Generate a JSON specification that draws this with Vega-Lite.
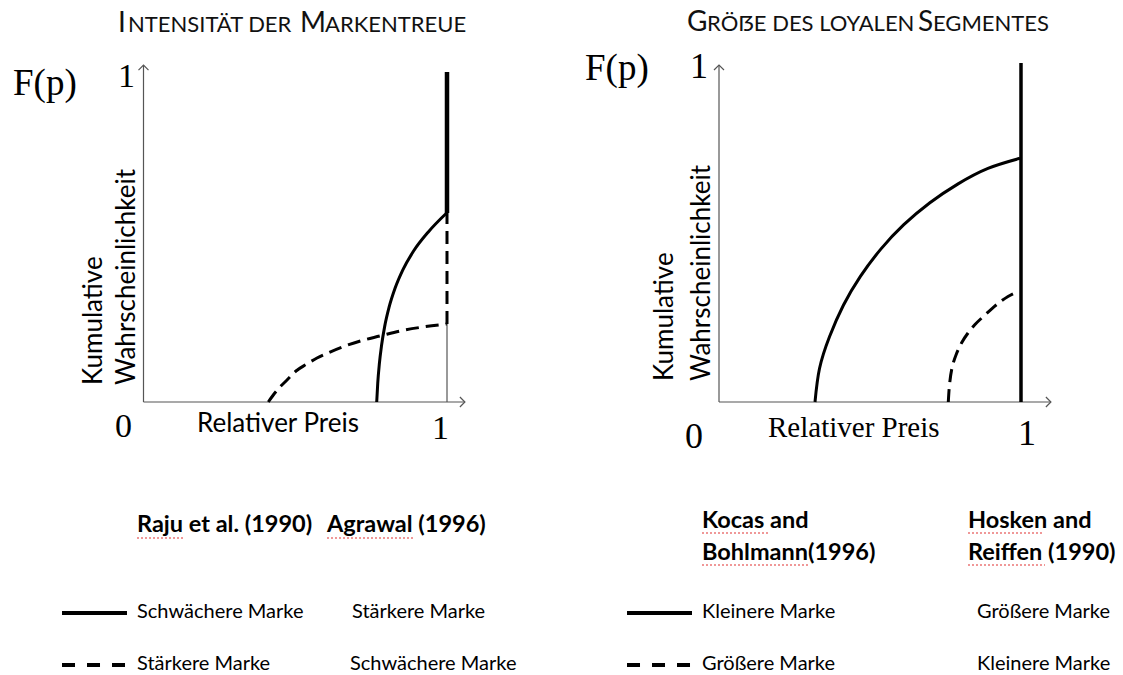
{
  "$schema": "https://vega.github.io/schema/vega-lite/v6.json",
  "padding": 0,
  "spacing": 0,
  "background": "white",
  "config": {"view": {"stroke": null}},
  "datasets": {
    "L_axes": [{"x": 0, "y": 0, "x2": 0, "y2": 1.021}, {"x": 0, "y": 0, "x2": 1.059, "y2": 0}, {"x": 1, "y": 0, "x2": 1, "y2": 0.236}],
    "L_arrows": [{"x": 0, "y": 1.021, "a": 0}, {"x": 1.059, "y": 0, "a": 90}],
    "L_thick": [{"x": 1, "y": 0.5727, "x2": 1, "y2": 1.0}],
    "L_dashv": [{"x": 1, "y": 0.2364, "x2": 1, "y2": 0.5727}],
    "L_solid": [{"x": 0.7684, "y": 0}, {"x": 0.7718, "y": 0.0573}, {"x": 0.777, "y": 0.1145}, {"x": 0.7844, "y": 0.1718}, {"x": 0.7947, "y": 0.2291}, {"x": 0.809, "y": 0.2864}, {"x": 0.8285, "y": 0.3436}, {"x": 0.8549, "y": 0.4009}, {"x": 0.8904, "y": 0.4582}, {"x": 0.9385, "y": 0.5154}, {"x": 0.9987, "y": 0.5727}],
    "L_dash": [{"x": 0.4112, "y": 0}, {"x": 0.43, "y": 0.0242}, {"x": 0.4498, "y": 0.0455}, {"x": 0.4728, "y": 0.0667}, {"x": 0.5025, "y": 0.0939}, {"x": 0.5354, "y": 0.1136}, {"x": 0.5717, "y": 0.1333}, {"x": 0.6145, "y": 0.1515}, {"x": 0.6639, "y": 0.1697}, {"x": 0.7199, "y": 0.1864}, {"x": 0.7792, "y": 0.2}, {"x": 0.8451, "y": 0.2152}, {"x": 0.9209, "y": 0.2273}, {"x": 0.999, "y": 0.2364}],
    "L_legSolid": [{"x": -0.2685, "y": -0.6394, "x2": -0.0544, "y2": -0.6394}],
    "L_legDash": [{"x": -0.2685, "y": -0.797, "x2": -0.0544, "y2": -0.797}],
    "L_squig": [{"x": -0.0214, "y": -0.4121, "x2": 0.1367, "y2": -0.4121}, {"x": 0.6046, "y": -0.4121, "x2": 0.8912, "y2": -0.4121}],
    "L_titleBig": [{"x": -0.084, "y": 1.1212, "t": "I"}, {"x": 0.5157, "y": 1.1212, "t": "M"}],
    "L_titleSmall": [{"x": -0.0511, "y": 1.1212, "t": "NTENSITÄT DER"}, {"x": 0.598, "y": 1.1212, "t": "ARKENTREUE"}],
    "L_fp": [{"x": -0.43, "y": 0.9303, "t": "F(p)"}],
    "L_nums": [{"x": -0.084, "y": 0.9545, "t": "1"}, {"x": -0.0939, "y": -0.1061, "t": "0"}, {"x": 0.9506, "y": -0.1121, "t": "1"}],
    "L_xlab": [{"x": 0.1763, "y": -0.0909, "t": "Relativer Preis"}],
    "L_ylab": [{"x": -0.1367, "y": 0.0515, "t": "Kumulative"}, {"x": -0.028, "y": 0.0515, "t": "Wahrscheinlichkeit"}],
    "L_refs": [{"x": -0.0214, "y": -0.3939, "t": "Raju et al. (1990)"}, {"x": 0.6046, "y": -0.3939, "t": "Agrawal (1996)"}],
    "L_leg": [{"x": -0.0214, "y": -0.6545, "t": "Schwächere Marke"}, {"x": 0.687, "y": -0.6545, "t": "Stärkere Marke"}, {"x": -0.0214, "y": -0.8121, "t": "Stärkere  Marke"}, {"x": 0.6804, "y": -0.8121, "t": "Schwächere Marke"}],
    "R_axes": [{"x": 0, "y": 0, "x2": 0, "y2": 0.994}, {"x": 0, "y": 0, "x2": 1.099, "y2": 0}],
    "R_arrows": [{"x": 0, "y": 0.994, "a": 0}, {"x": 1.099, "y": 0, "a": 90}],
    "R_thick": [{"x": 1, "y": 0, "x2": 1, "y2": 1.0}],
    "R_solid": [{"x": 0.3179, "y": 0}, {"x": 0.3328, "y": 0.0988}, {"x": 0.3662, "y": 0.1932}, {"x": 0.4119, "y": 0.2853}, {"x": 0.4682, "y": 0.3705}, {"x": 0.5358, "y": 0.451}, {"x": 0.6119, "y": 0.523}, {"x": 0.6983, "y": 0.5879}, {"x": 0.7904, "y": 0.6428}, {"x": 0.8907, "y": 0.6891}, {"x": 0.9967, "y": 0.7189}],
    "R_dash": [{"x": 0.7593, "y": 0}, {"x": 0.7632, "y": 0.0501}, {"x": 0.7715, "y": 0.1003}, {"x": 0.7848, "y": 0.1386}, {"x": 0.803, "y": 0.174}, {"x": 0.8245, "y": 0.2035}, {"x": 0.8477, "y": 0.2286}, {"x": 0.8752, "y": 0.2522}, {"x": 0.904, "y": 0.2758}, {"x": 0.9305, "y": 0.295}, {"x": 0.957, "y": 0.3112}, {"x": 0.9857, "y": 0.3245}],
    "R_legSolid": [{"x": -0.3046, "y": -0.6224, "x2": -0.0894, "y2": -0.6224}],
    "R_legDash": [{"x": -0.3046, "y": -0.7758, "x2": -0.0894, "y2": -0.7758}],
    "R_squig": [{"x": -0.0563, "y": -0.3864, "x2": 0.1689, "y2": -0.3864}, {"x": -0.0563, "y": -0.4808, "x2": 0.2947, "y2": -0.4808}, {"x": 0.8245, "y": -0.3864, "x2": 1.0728, "y2": -0.3864}, {"x": 0.8245, "y": -0.4808, "x2": 1.0795, "y2": -0.4808}],
    "R_titleBig": [{"x": -0.106, "y": 1.0944, "t": "G"}, {"x": 0.6589, "y": 1.0944, "t": "S"}],
    "R_titleSmall": [{"x": -0.0397, "y": 1.0944, "t": "RÖẞE DES LOYALEN"}, {"x": 0.7086, "y": 1.0944, "t": "EGMENTES"}],
    "R_fp": [{"x": -0.4437, "y": 0.9499, "t": "F(p)"}],
    "R_nums": [{"x": -0.096, "y": 0.9558, "t": "1"}, {"x": -0.1126, "y": -0.1357, "t": "0"}, {"x": 0.9901, "y": -0.1268, "t": "1"}],
    "R_xlab": [{"x": 0.1623, "y": -0.1032, "t": "Relativer Preis"}],
    "R_ylab": [{"x": -0.1523, "y": 0.0619, "t": "Kumulative"}, {"x": -0.0298, "y": 0.0619, "t": "Wahrscheinlichkeit"}],
    "R_refs": [{"x": -0.0563, "y": -0.3717, "t": "Kocas and"}, {"x": -0.0563, "y": -0.4661, "t": "Bohlmann(1996)"}, {"x": 0.8245, "y": -0.3717, "t": "Hosken and"}, {"x": 0.8245, "y": -0.4661, "t": "Reiffen (1990)"}],
    "R_leg": [{"x": -0.0563, "y": -0.6372, "t": "Kleinere Marke"}, {"x": 0.8543, "y": -0.6372, "t": "Größere Marke"}, {"x": -0.0563, "y": -0.7906, "t": "Größere Marke"}, {"x": 0.8543, "y": -0.7906, "t": "Kleinere Marke"}]
  },
  "hconcat": [
    {
      "width": 561,
      "height": 675,
      "encoding": {
        "x": {"field": "x", "type": "quantitative", "scale": {"domain": [-0.47282, 1.37562], "nice": false, "zero": false}, "axis": null},
        "y": {"field": "y", "type": "quantitative", "scale": {"domain": [-0.82727, 1.21818], "nice": false, "zero": false}, "axis": null}
      },
      "layer": [
        {"data": {"name": "L_axes"}, "mark": {"type": "rule", "color": "#555555", "strokeWidth": 1.2}, "encoding": {"x2": {"field": "x2"}, "y2": {"field": "y2"}}},
        {"data": {"name": "L_arrows"}, "mark": {"type": "point", "shape": "M-1,1L0,0L1,1", "filled": false, "color": "#555555", "strokeWidth": 1.2, "size": 100, "opacity": 1}, "encoding": {"angle": {"field": "a", "type": "quantitative", "scale": null}}},
        {"data": {"name": "L_thick"}, "mark": {"type": "rule", "color": "black", "strokeWidth": 4.5}, "encoding": {"x2": {"field": "x2"}, "y2": {"field": "y2"}}},
        {"data": {"name": "L_dashv"}, "mark": {"type": "rule", "color": "black", "strokeWidth": 3, "strokeDash": [13, 7]}, "encoding": {"x2": {"field": "x2"}, "y2": {"field": "y2"}}},
        {"data": {"name": "L_solid"}, "mark": {"type": "line", "color": "black", "strokeWidth": 3, "interpolate": "monotone"}},
        {"data": {"name": "L_dash"}, "mark": {"type": "line", "color": "black", "strokeWidth": 3, "interpolate": "monotone", "strokeDash": [13, 7]}},
        {"data": {"name": "L_legSolid"}, "mark": {"type": "rule", "color": "black", "strokeWidth": 4}, "encoding": {"x2": {"field": "x2"}, "y2": {"field": "y2"}}},
        {"data": {"name": "L_legDash"}, "mark": {"type": "rule", "color": "black", "strokeWidth": 4, "strokeDash": [13, 12]}, "encoding": {"x2": {"field": "x2"}, "y2": {"field": "y2"}}},
        {"data": {"name": "L_squig"}, "mark": {"type": "rule", "color": "#e03030", "strokeWidth": 1.2, "strokeDash": [2, 2]}, "encoding": {"x2": {"field": "x2"}, "y2": {"field": "y2"}}},
        {"data": {"name": "L_titleBig"}, "mark": {"type": "text", "align": "left", "baseline": "alphabetic", "font": "Lato", "fontSize": 28, "color": "#111111"}, "encoding": {"text": {"field": "t"}}},
        {"data": {"name": "L_titleSmall"}, "mark": {"type": "text", "align": "left", "baseline": "alphabetic", "font": "Lato", "fontSize": 22, "color": "#111111"}, "encoding": {"text": {"field": "t"}}},
        {"data": {"name": "L_fp"}, "mark": {"type": "text", "align": "left", "baseline": "alphabetic", "font": "Liberation Serif", "fontSize": 37, "color": "black"}, "encoding": {"text": {"field": "t"}}},
        {"data": {"name": "L_nums"}, "mark": {"type": "text", "align": "left", "baseline": "alphabetic", "font": "Liberation Serif", "fontSize": 34, "color": "black"}, "encoding": {"text": {"field": "t"}}},
        {"data": {"name": "L_xlab"}, "mark": {"type": "text", "align": "left", "baseline": "alphabetic", "font": "Lato", "fontSize": 26, "color": "black"}, "encoding": {"text": {"field": "t"}}},
        {"data": {"name": "L_ylab"}, "mark": {"type": "text", "align": "left", "baseline": "alphabetic", "angle": 270, "font": "Lato", "fontSize": 26, "color": "black"}, "encoding": {"text": {"field": "t"}}},
        {"data": {"name": "L_refs"}, "mark": {"type": "text", "align": "left", "baseline": "alphabetic", "font": "Lato", "fontWeight": "bold", "fontSize": 23.5, "color": "black"}, "encoding": {"text": {"field": "t"}}},
        {"data": {"name": "L_leg"}, "mark": {"type": "text", "align": "left", "baseline": "alphabetic", "font": "Lato", "fontSize": 20, "color": "black"}, "encoding": {"text": {"field": "t"}}}
      ]
    },
    {
      "width": 562,
      "height": 675,
      "encoding": {
        "x": {"field": "x", "type": "quantitative", "scale": {"domain": [-0.52318, 1.33775], "nice": false, "zero": false}, "axis": null},
        "y": {"field": "y", "type": "quantitative", "scale": {"domain": [-0.80531, 1.18584], "nice": false, "zero": false}, "axis": null}
      },
      "layer": [
        {"data": {"name": "R_axes"}, "mark": {"type": "rule", "color": "#555555", "strokeWidth": 1.2}, "encoding": {"x2": {"field": "x2"}, "y2": {"field": "y2"}}},
        {"data": {"name": "R_arrows"}, "mark": {"type": "point", "shape": "M-1,1L0,0L1,1", "filled": false, "color": "#555555", "strokeWidth": 1.2, "size": 100, "opacity": 1}, "encoding": {"angle": {"field": "a", "type": "quantitative", "scale": null}}},
        {"data": {"name": "R_thick"}, "mark": {"type": "rule", "color": "black", "strokeWidth": 3.5}, "encoding": {"x2": {"field": "x2"}, "y2": {"field": "y2"}}},
        {"data": {"name": "R_solid"}, "mark": {"type": "line", "color": "black", "strokeWidth": 3, "interpolate": "natural"}},
        {"data": {"name": "R_dash"}, "mark": {"type": "line", "color": "black", "strokeWidth": 3, "interpolate": "natural", "strokeDash": [13, 7]}},
        {"data": {"name": "R_legSolid"}, "mark": {"type": "rule", "color": "black", "strokeWidth": 4}, "encoding": {"x2": {"field": "x2"}, "y2": {"field": "y2"}}},
        {"data": {"name": "R_legDash"}, "mark": {"type": "rule", "color": "black", "strokeWidth": 4, "strokeDash": [13, 12]}, "encoding": {"x2": {"field": "x2"}, "y2": {"field": "y2"}}},
        {"data": {"name": "R_squig"}, "mark": {"type": "rule", "color": "#e03030", "strokeWidth": 1.2, "strokeDash": [2, 2]}, "encoding": {"x2": {"field": "x2"}, "y2": {"field": "y2"}}},
        {"data": {"name": "R_titleBig"}, "mark": {"type": "text", "align": "left", "baseline": "alphabetic", "font": "Lato", "fontSize": 28, "color": "#111111"}, "encoding": {"text": {"field": "t"}}},
        {"data": {"name": "R_titleSmall"}, "mark": {"type": "text", "align": "left", "baseline": "alphabetic", "font": "Lato", "fontSize": 22, "color": "#111111"}, "encoding": {"text": {"field": "t"}}},
        {"data": {"name": "R_fp"}, "mark": {"type": "text", "align": "left", "baseline": "alphabetic", "font": "Liberation Serif", "fontSize": 37, "color": "black"}, "encoding": {"text": {"field": "t"}}},
        {"data": {"name": "R_nums"}, "mark": {"type": "text", "align": "left", "baseline": "alphabetic", "font": "Liberation Serif", "fontSize": 36, "color": "black"}, "encoding": {"text": {"field": "t"}}},
        {"data": {"name": "R_xlab"}, "mark": {"type": "text", "align": "left", "baseline": "alphabetic", "font": "Liberation Serif", "fontSize": 29, "color": "black"}, "encoding": {"text": {"field": "t"}}},
        {"data": {"name": "R_ylab"}, "mark": {"type": "text", "align": "left", "baseline": "alphabetic", "angle": 270, "font": "Lato", "fontSize": 26, "color": "black"}, "encoding": {"text": {"field": "t"}}},
        {"data": {"name": "R_refs"}, "mark": {"type": "text", "align": "left", "baseline": "alphabetic", "font": "Lato", "fontWeight": "bold", "fontSize": 23.5, "color": "black"}, "encoding": {"text": {"field": "t"}}},
        {"data": {"name": "R_leg"}, "mark": {"type": "text", "align": "left", "baseline": "alphabetic", "font": "Lato", "fontSize": 20, "color": "black"}, "encoding": {"text": {"field": "t"}}}
      ]
    }
  ]
}
